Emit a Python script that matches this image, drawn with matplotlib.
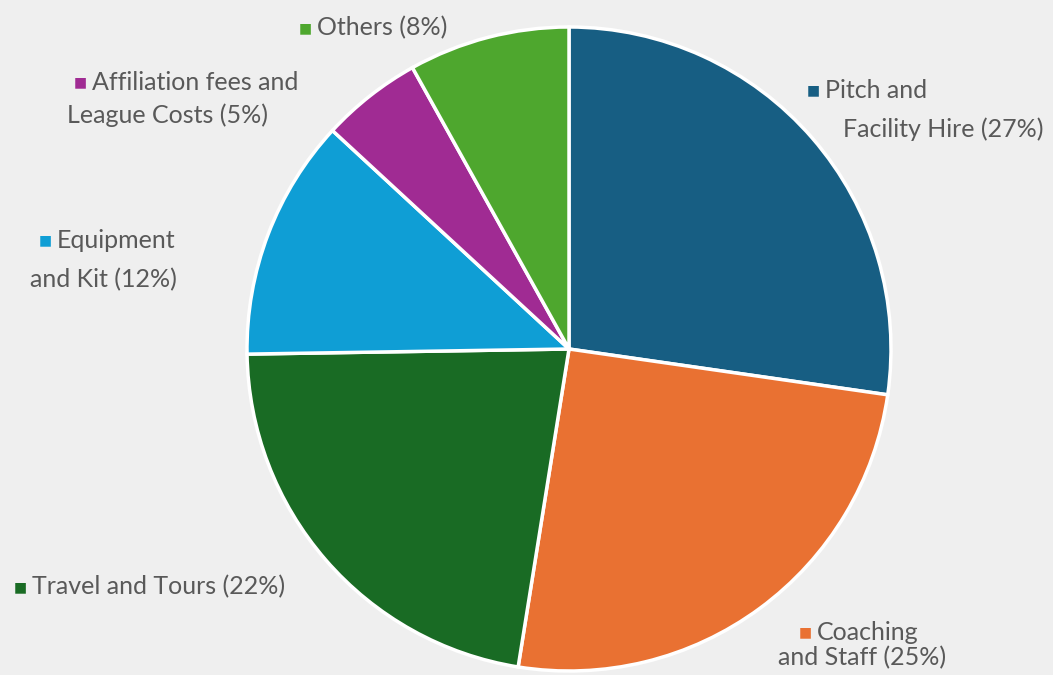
import matplotlib
matplotlib.use("Agg")
import matplotlib.pyplot as plt

# Cost breakdown (percent of total)
categories = ["Pitch and Facility Hire", "Coaching and Staff", "Travel and Tours",
              "Equipment and Kit", "Affiliation fees and League Costs", "Others"]
shares = [27, 25, 22, 12, 5, 8]
colors = ["#175E83", "#E97132", "#196B24", "#0F9ED5", "#A02B93", "#4EA72E"]

# label text, split into lines as in the original chart
label_lines = [
    ["Pitch and", "Facility Hire (27%)"],
    ["Coaching", "and Staff (25%)"],
    ["Travel and Tours (22%)"],
    ["Equipment", "and Kit (12%)"],
    ["Affiliation fees and", "League Costs (5%)"],
    ["Others (8%)"],
]
# left edge (px) and centre y (px) of each line
label_pos = [
    [(825, 90), (843, 129)],
    [(817, 632), (778, 658)],
    [(32, 587)],
    [(57, 240), (30, 280)],
    [(92, 82), (67, 115)],
    [(317, 28)],
]

W, H = 1053, 675
bg = "#EFEFEF"
text_color = "#595959"
font = "Lato"

fig = plt.figure(figsize=(W / 100, H / 100), dpi=100, facecolor=bg)
cx, cy, r = 569, 349, 322
ax = fig.add_axes([(cx - r) / W, (H - cy - r) / H, 2 * r / W, 2 * r / H])
ax.set_facecolor(bg)

ax.pie(shares, colors=colors, startangle=90, counterclock=False, radius=1,
       wedgeprops=dict(edgecolor="white", linewidth=2.5))
ax.set_xlim(-1, 1)
ax.set_ylim(-1, 1)
ax.set_aspect("equal")
ax.axis("off")

for lines, pos, col in zip(label_lines, label_pos, colors):
    for i, (line, (px, py)) in enumerate(zip(lines, pos)):
        t = fig.text(px / W, 1 - py / H, line, ha="left", va="center",
                     fontsize=18, color=text_color, family=font)
        if i == 0:
            ax.annotate("■", xy=(0, 0.5), xycoords=t, xytext=(-4, 0),
                        textcoords="offset points", ha="right", va="center",
                        fontsize=10, color=col, family="DejaVu Sans")

fig.savefig("out.png", dpi=100, facecolor=bg)
